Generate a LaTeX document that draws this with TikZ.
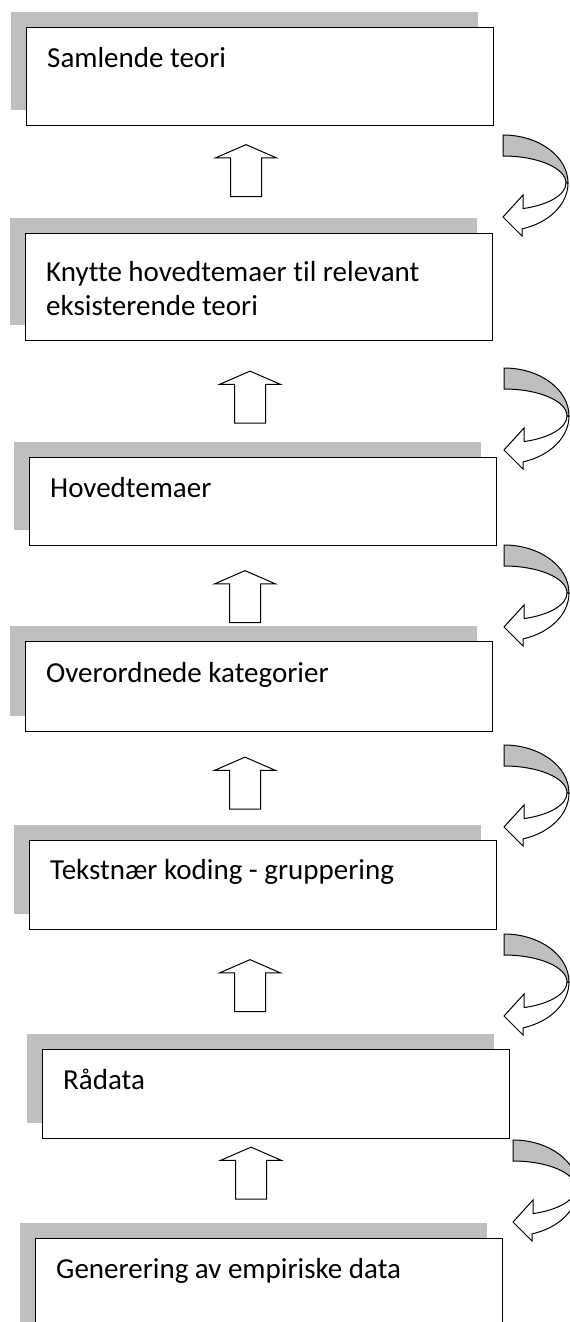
\documentclass[tikz,border=0pt]{standalone}
\usepackage{fontspec}
\setmainfont{Carlito}[Ligatures=NoCommon]
\usetikzlibrary{shapes.arrows,shadows}
\definecolor{skygge}{RGB}{191,191,191}
\tikzset{
  boks/.style={draw=black, line width=1.4pt, fill=white, anchor=north west,
    minimum width=467pt, inner sep=0pt,
    general shadow={fill=skygge, shadow xshift=-16pt, shadow yshift=16pt}},
  tekst/.style={anchor=base west, inner sep=0pt, align=left,
    font=\fontsize{29}{34}\selectfont},
  oppil/.style={single arrow, draw=black, line width=1pt, fill=white,
    shape border rotate=90, minimum height=52pt, inner sep=15pt,
    single arrow head extend=15pt, single arrow tip angle=133},
  bue/.pic={
    \draw[line width=1pt, fill=skygge] (0,48) arc[start angle=90, end angle=0, x radius=65pt, y radius=48pt]
      -- (63,0) arc[start angle=0, end angle=90, x radius=63pt, y radius=27pt] -- cycle;
    \draw[line width=1pt, fill=white, line join=miter] (65,0) arc[start angle=0, end angle=-73, x radius=65pt, y radius=48pt]
      -- (19,-53) -- (0,-34) -- (20,-12) -- (20,-25.6)
      arc[start angle=-71.5, end angle=0, x radius=63pt, y radius=27pt] -- cycle;
  }
}
\begin{document}
\begin{tikzpicture}[x=1pt, y=1pt]
    \useasboundingbox (0,0) rectangle (570,-1322);
    \node [boks, minimum height=98pt] (b1) at (26,-27) {};
    \node [boks, minimum height=107pt] (b2) at (25,-233) {};
    \node [boks, minimum height=88pt] (b3) at (29,-457) {};
    \node [boks, minimum height=90pt] (b4) at (25,-641) {};
    \node [boks, minimum height=89pt] (b5) at (29,-840) {};
    \node [boks, minimum height=89pt] (b6) at (42,-1049) {};
    \node [boks, minimum height=100pt] (b7) at (35,-1238) {};
    \node [tekst] (t1) at ([shift={(21,-40)}]b1.north west) {Samlende teori};
    \node [tekst] (t2) at ([shift={(21,-82)}]b2.north west) {Knytte hovedtemaer til relevant\\eksisterende teori};
    \node [tekst] (t3) at ([shift={(21,-40)}]b3.north west) {Hovedtemaer};
    \node [tekst] (t4) at ([shift={(21,-41)}]b4.north west) {Overordnede kategorier};
    \node [tekst] (t5) at ([shift={(21,-39)}]b5.north west) {Tekstnær koding - gruppering};
    \node [tekst] (t6) at ([shift={(21,-40)}]b6.north west) {Rådata};
    \node [tekst] (t7) at ([shift={(21,-40)}]b7.north west) {Generering av empiriske data};
    \node [oppil] (a1) at (246,-174) {};
    \node [oppil] (a2) at (250,-400.5) {};
    \node [oppil] (a3) at (245,-600) {};
    \node [oppil] (a4) at (245,-786.5) {};
    \node [oppil] (a5) at (250,-989) {};
    \node [oppil] (a6) at (251,-1176.5) {};
    \foreach \x/\y in {503/183, 504/416, 504/593, 504/793, 504/982, 513/1188}
      \pic at (\x,-\y) {bue};
\end{tikzpicture}
\end{document}
